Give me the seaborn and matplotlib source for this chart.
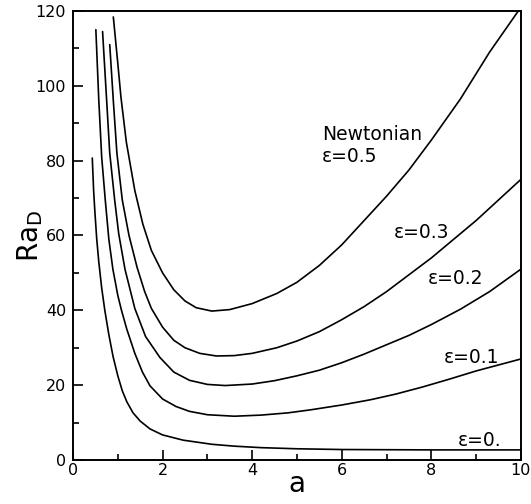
import pandas as pd
import numpy as np
import matplotlib
matplotlib.use("Agg")
import matplotlib.pyplot as plt
import seaborn as sns
from matplotlib.ticker import MultipleLocator

sns.set_style("ticks")
plt.rcParams['font.family'] = ['DejaVu Sans']
plt.rcParams.update({"text.color": "black", "axes.labelcolor": "black",
                     "xtick.color": "black", "ytick.color": "black",
                     "axes.edgecolor": "black"})

# curves: wavenumber a vs critical Ra_D
a_e0 = [0.43, 0.46, 0.49, 0.53, 0.575, 0.64, 0.71, 0.80, 0.895, 1.0, 1.1, 1.2, 1.34, 1.5, 1.72,
        2.0, 2.46, 3.1, 3.6, 4.2, 5.0, 6.0, 8.0, 10.0]
ra_e0 = [80.7, 72.0, 66.0, 59.0, 53.0, 46.0, 40.0, 33.5, 27.6, 22.5, 18.5, 15.6, 12.6, 10.4, 8.3,
         6.7, 5.3, 4.2, 3.7, 3.3, 3.0, 2.8, 2.7, 2.7]

a_e1 = [0.51, 0.575, 0.64, 0.72, 0.80, 0.89, 1.0, 1.08, 1.2, 1.38, 1.55, 1.72, 2.0, 2.3, 2.6, 3.0,
        3.6, 4.2, 4.8, 5.3, 6.0, 6.64, 7.2, 7.8, 8.4, 9.0, 9.5, 10.0]
ra_e1 = [115.0, 96.3, 81.0, 69.5, 59.0, 51.0, 44.0, 40.1, 35.0, 28.5, 23.5, 19.8, 16.3, 14.3, 13.0, 12.1,
         11.7, 12.0, 12.6, 13.4, 14.7, 16.1, 17.6, 19.5, 21.6, 23.8, 25.4, 27.0]

a_e2 = [0.66, 0.75, 0.82, 0.93, 1.02, 1.16, 1.38, 1.62, 1.94, 2.25, 2.6, 3.0, 3.4, 4.0, 4.5, 5.0,
        5.5, 6.0, 6.5, 7.0, 7.5, 8.0, 8.65, 9.3, 10.0]
ra_e2 = [114.5, 96.3, 82.0, 69.5, 60.5, 51.0, 40.5, 33.0, 27.4, 23.5, 21.3, 20.2, 19.9, 20.3, 21.2, 22.5,
         24.0, 26.0, 28.3, 30.8, 33.3, 36.2, 40.3, 45.0, 51.0]

a_e3 = [0.82, 0.90, 0.98, 1.10, 1.25, 1.43, 1.60, 1.75, 2.0, 2.25, 2.5, 2.83, 3.2, 3.6, 4.0, 4.55,
        5.0, 5.5, 6.0, 6.5, 7.0, 7.5, 8.0, 8.5, 9.0, 9.5, 10.0]
ra_e3 = [111.0, 96.0, 82.0, 69.5, 60.0, 51.5, 45.0, 40.5, 35.5, 32.0, 30.0, 28.5, 27.8, 27.9, 28.5, 30.0,
         31.8, 34.3, 37.5, 41.0, 45.0, 49.5, 54.0, 59.0, 64.0, 69.5, 75.0]

a_e5 = [0.90, 1.0, 1.07, 1.19, 1.38, 1.56, 1.75, 2.0, 2.25, 2.5, 2.75, 3.1, 3.5, 4.0, 4.55, 5.0,
        5.5, 6.0, 6.5, 7.0, 7.5, 8.0, 8.65, 9.3, 10.0]
ra_e5 = [118.4, 106.0, 97.0, 85.0, 72.0, 63.0, 56.0, 50.0, 45.5, 42.5, 40.7, 39.8, 40.2, 41.8, 44.5, 47.5,
         52.0, 57.5, 64.0, 70.5, 77.5, 85.5, 96.5, 109.0, 121.0]

curves = {"0": (a_e0, ra_e0), "0.1": (a_e1, ra_e1), "0.2": (a_e2, ra_e2),
          "0.3": (a_e3, ra_e3), "0.5": (a_e5, ra_e5)}

df = pd.concat([pd.DataFrame({"a": x, "Ra": y, "eps": k}) for k, (x, y) in curves.items()],
               ignore_index=True)

# label text and anchor (a, Ra)
labels = ["Newtonian", "\u03b5=0.5", "\u03b5=0.3", "\u03b5=0.2", "\u03b5=0.1", "\u03b5=0."]
label_a = [5.56, 5.56, 7.16, 7.91, 8.27, 8.6]
label_ra = [86.9, 81.0, 60.7, 48.4, 27.5, 5.1]

fig = plt.figure(figsize=(5.31, 5.04), dpi=100)
ax = fig.add_axes([0.1375, 0.0873, 0.8435, 0.8909])

sns.lineplot(data=df, x="a", y="Ra", hue="eps", units="eps", estimator=None, sort=False,
             palette=["black"] * 5, linewidth=1.2, legend=False, ax=ax)

for t, x, y in zip(labels, label_a, label_ra):
    ax.text(x, y, t, fontsize=13.5, va="center", ha="left")

ax.set_xlim(0, 10)
ax.set_ylim(0, 120)
ax.xaxis.set_major_locator(MultipleLocator(2))
ax.xaxis.set_minor_locator(MultipleLocator(1))
ax.yaxis.set_major_locator(MultipleLocator(20))
ax.yaxis.set_minor_locator(MultipleLocator(10))
ax.tick_params(which="both", direction="in", top=False, right=False, width=1.2, labelsize=11.5)
ax.tick_params(axis="x", pad=2)
ax.tick_params(axis="y", pad=5)
ax.tick_params(which="major", length=7)
ax.tick_params(which="minor", length=4)
for s in ax.spines.values():
    s.set_linewidth(1.4)
    s.set_visible(True)

ax.set_xlabel("a", fontsize=20)
ax.set_ylabel("Ra$_\\mathregular{D}$", fontsize=20)
ax.xaxis.set_label_coords(0.5, -0.022)
ax.yaxis.set_label_coords(-0.062, 0.5)

fig.savefig("out.png", dpi=100)
